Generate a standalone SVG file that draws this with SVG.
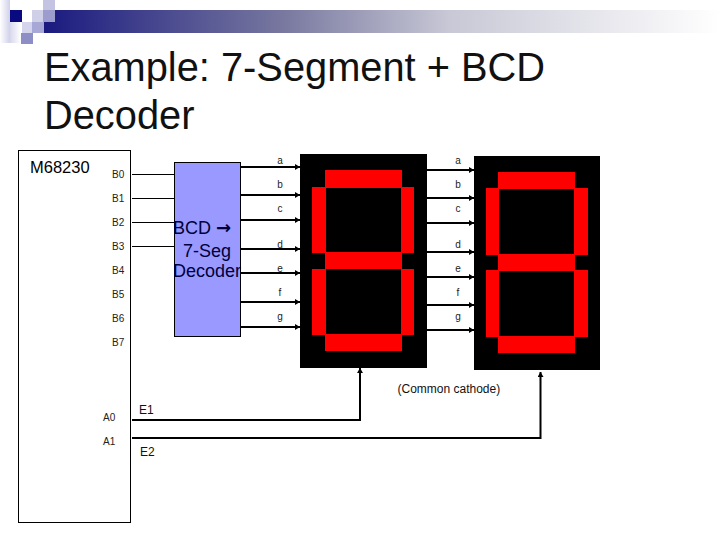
<svg xmlns="http://www.w3.org/2000/svg" width="720" height="540" viewBox="0 0 720 540">
<style>
text{font-family:"Liberation Sans",Arial,sans-serif;fill:#000}
.s{font-size:10px;fill:#222}
.m{font-size:12px;fill:#111}
.t{font-size:39.800px;fill:#111}
.d{font-size:18px;fill:#00003a;text-anchor:middle}
.w1{stroke:#000;stroke-width:1;fill:none}
.w2{stroke:#000;stroke-width:2;fill:none;marker-end:url(#ah)}
.seg{fill:#f00}
.dsp{fill:#000}
</style>
<defs>
<linearGradient id="bar" x1="0" x2="1" y1="0" y2="0"><stop offset="0" stop-color="#1a1a80"/><stop offset="0.35" stop-color="#77779f"/><stop offset="0.6" stop-color="#c8c8d6"/><stop offset="1" stop-color="#fff"/></linearGradient>
<linearGradient id="lft" x1="0" x2="1" y1="0" y2="0"><stop offset="0" stop-color="#fff"/><stop offset="1" stop-color="#d0d0ea"/></linearGradient>
<linearGradient id="lf2" x1="0" x2="1" y1="0" y2="0"><stop offset="0" stop-color="#d8d8ee"/><stop offset="1" stop-color="#fff"/></linearGradient>
<marker id="ah" markerUnits="userSpaceOnUse" markerWidth="8" markerHeight="8" refX="5" refY="3" orient="auto"><path d="M0 0L5 3L0 6z" fill="#000"/></marker>
</defs>
<g id="header">
<rect x="44" y="10" width="676" height="23" fill="url(#bar)"/>
<rect x="0" y="0" width="10" height="43" fill="url(#lft)"/>
<rect x="10" y="22" width="11" height="21" fill="url(#lf2)"/>
<rect x="10" y="10" width="12" height="12" fill="#0a0a80"/>
<rect x="43" y="0" width="12" height="10" fill="#c4c4e2"/>
<rect x="32" y="10" width="11" height="12" fill="#cfcfe8"/>
<rect x="43" y="10" width="12" height="12" fill="#9c9cce"/>
<rect x="22" y="22" width="10" height="11" fill="#d4d4ec"/>
<rect x="32" y="22" width="12" height="11" fill="#a8a8d6"/>
<rect x="21" y="33" width="12" height="11" fill="#8e8ec6"/>
</g>
<g id="title">
<text class="t" x="44" y="81">Example: 7-Segment + BCD</text>
<text class="t" x="44" y="129">Decoder</text>
</g>
<g id="m68230">
<rect x="18.500" y="150.500" width="112" height="372" fill="#fff" stroke="#000"/>
<text x="30" y="173" font-size="16.500">M68230</text>
<text class="s" x="112" y="177.500">B0</text>
<text class="s" x="112" y="201.500">B1</text>
<text class="s" x="112" y="225.500">B2</text>
<text class="s" x="112" y="249.500">B3</text>
<text class="s" x="112" y="273.500">B4</text>
<text class="s" x="112" y="297.500">B5</text>
<text class="s" x="112" y="321.500">B6</text>
<text class="s" x="112" y="345.500">B7</text>
<text class="s" x="103" y="421">A0</text>
<text class="s" x="103" y="445">A1</text>
</g>
<g id="decoder">
<rect x="174.500" y="162.500" width="66" height="174" fill="#99f" stroke="#000"/>
<text class="d" x="202" y="234">BCD <tspan font-family="DejaVu Sans" font-weight="bold">→</tspan></text>
<text class="d" x="207" y="257">7-Seg</text>
<text class="d" x="207" y="277">Decoder</text>
</g>
<g id="display1">
<rect class="dsp" x="300" y="154" width="127" height="214"/>
<rect class="seg" x="325" y="170" width="77" height="18"/>
<rect class="seg" x="312" y="187" width="14" height="66"/>
<rect class="seg" x="401" y="187" width="13" height="66"/>
<rect class="seg" x="325" y="252" width="77" height="17"/>
<rect class="seg" x="312" y="269" width="14" height="66"/>
<rect class="seg" x="401" y="269" width="13" height="66"/>
<rect class="seg" x="325" y="334" width="77" height="17"/>
</g>
<g id="display2">
<rect class="dsp" x="474" y="156" width="126" height="214"/>
<rect class="seg" x="498" y="172" width="77" height="17"/>
<rect class="seg" x="486" y="188" width="13" height="67"/>
<rect class="seg" x="574" y="188" width="14" height="67"/>
<rect class="seg" x="498" y="254" width="77" height="17"/>
<rect class="seg" x="486" y="270" width="13" height="67"/>
<rect class="seg" x="574" y="270" width="14" height="67"/>
<rect class="seg" x="498" y="336" width="77" height="17"/>
</g>
<g id="connectors">
<path class="w1" d="M132 174.500H174M132 198.500H174M132 222.500H174M132 246.500H174"/>
<path class="w2" d="M241 167H300"/>
<path class="w2" d="M241 195H300"/>
<path class="w2" d="M241 220H300"/>
<path class="w2" d="M241 249H300"/>
<path class="w2" d="M241 273H300"/>
<path class="w2" d="M241 302H300"/>
<path class="w2" d="M241 327H300"/>
<path class="w2" d="M427 170H474"/>
<path class="w2" d="M427 198H474"/>
<path class="w2" d="M427 223H474"/>
<path class="w2" d="M427 252H474"/>
<path class="w2" d="M427 277H474"/>
<path class="w2" d="M427 305H474"/>
<path class="w2" d="M427 330H474"/>
<path class="w2" d="M132 420H360V368"/>
<path class="w2" d="M132 438H540.500V372"/>
</g>
<g id="labels">
<text class="s" x="280" y="163.500" text-anchor="middle">a</text>
<text class="s" x="280" y="187.500" text-anchor="middle">b</text>
<text class="s" x="280" y="211.500" text-anchor="middle">c</text>
<text class="s" x="280" y="247.500" text-anchor="middle">d</text>
<text class="s" x="280" y="271.500" text-anchor="middle">e</text>
<text class="s" x="280" y="295.500" text-anchor="middle">f</text>
<text class="s" x="280" y="319.500" text-anchor="middle">g</text>
<text class="s" x="458" y="163.500" text-anchor="middle">a</text>
<text class="s" x="458" y="187.500" text-anchor="middle">b</text>
<text class="s" x="458" y="211.500" text-anchor="middle">c</text>
<text class="s" x="458" y="247.500" text-anchor="middle">d</text>
<text class="s" x="458" y="271.500" text-anchor="middle">e</text>
<text class="s" x="458" y="295.500" text-anchor="middle">f</text>
<text class="s" x="458" y="319.500" text-anchor="middle">g</text>
<text class="m" x="139" y="414">E1</text>
<text class="m" x="140" y="456">E2</text>
<text class="m" x="397.500" y="393">(Common cathode)</text>
</g>
</svg>
